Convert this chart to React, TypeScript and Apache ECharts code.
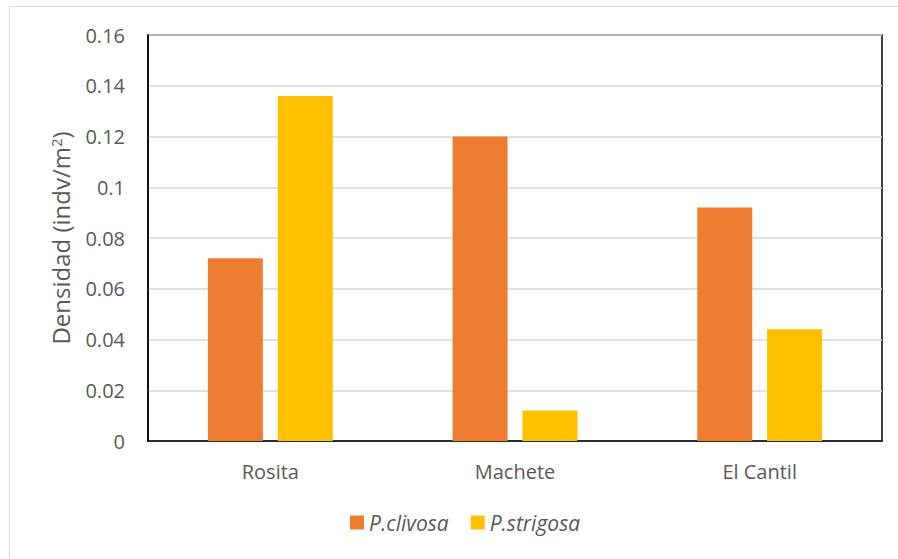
import React, { useEffect, useRef } from "react";
import * as echarts from "echarts";

const sites = ["Rosita", "Machete", "El Cantil"];
const clivosa = [0.072, 0.12, 0.092];
const strigosa = [0.136, 0.012, 0.044];
const seriesNames = ["P.clivosa", "P.strigosa"];

const FONT = "'Open Sans', 'Noto Sans', sans-serif";
const GREY = "#595959";

export default function App() {
  const ref = useRef<HTMLDivElement>(null);

  useEffect(() => {
    if (!ref.current) return;
    const chart = echarts.init(ref.current, null, { renderer: "svg" });
    chart.setOption({
      animation: false,
      backgroundColor: "#ffffff",
      textStyle: { fontFamily: FONT },
      graphic: [
        { type: "line", shape: { x1: 9.5, y1: 6.5, x2: 898, y2: 6.5 }, style: { stroke: "#d9d9d9", lineWidth: 1 } },
        { type: "line", shape: { x1: 9.5, y1: 6.5, x2: 9.5, y2: 559 }, style: { stroke: "#d9d9d9", lineWidth: 1 } },
      ],
      grid: {
        left: 148,
        top: 35,
        right: 16,
        bottom: 118,
        show: true,
        borderColor: "#000000",
        borderWidth: 1.5,
      },
      legend: {
        bottom: 21,
        left: 345,
        itemWidth: 14,
        itemHeight: 14,
        itemGap: 22,
        icon: "rect",
        textStyle: { fontFamily: FONT, fontSize: 21, fontStyle: "italic", color: GREY },
        data: seriesNames,
      },
      xAxis: {
        type: "category",
        data: sites,
        axisLine: { lineStyle: { color: "#000000", width: 1.5 } },
        axisTick: { show: false },
        axisLabel: { color: GREY, fontSize: 20, fontFamily: FONT, margin: 20 },
      },
      yAxis: {
        type: "value",
        min: 0,
        max: 0.16,
        interval: 0.02,
        name: "Densidad (indv/m{sup|2})",
        nameLocation: "middle",
        nameGap: 76,
        nameTextStyle: {
          color: GREY,
          fontSize: 24,
          fontFamily: FONT,
          rich: {
            sup: { fontSize: 15, color: GREY, fontFamily: FONT, verticalAlign: "top", padding: [0, 0, 8, 0] },
          },
        },
        axisLine: { show: true, lineStyle: { color: "#000000", width: 1.5 } },
        axisLabel: {
          color: GREY,
          fontSize: 20,
          fontFamily: FONT,
          margin: 23,
          formatter: (v: number) => String(parseFloat(v.toFixed(2))),
        },
        splitLine: { lineStyle: { color: "#d9d9d9", width: 1.5 } },
      },
      series: [
        {
          name: seriesNames[0],
          type: "bar",
          data: clivosa,
          barWidth: 55,
          barGap: "27%",
          itemStyle: { color: "#ED7D31" },
        },
        {
          name: seriesNames[1],
          type: "bar",
          data: strigosa,
          barWidth: 55,
          barGap: "27%",
          itemStyle: { color: "#FFC000" },
        },
      ],
    });
    return () => chart.dispose();
  }, []);

  return (
    <div
      ref={ref}
      style={{ position: "absolute", left: 0, top: 0, width: 898, height: 559 }}
    />
  );
}
